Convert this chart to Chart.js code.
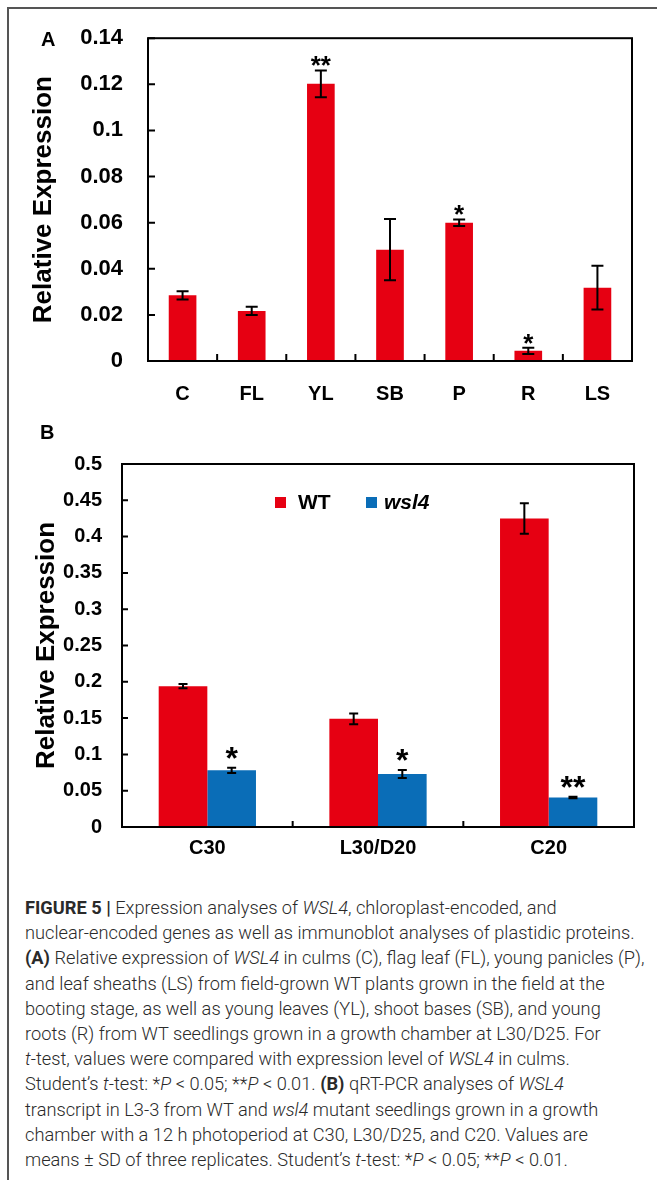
<!DOCTYPE html>
<html>
<head>
<meta charset="utf-8">
<script src="https://cdn.jsdelivr.net/npm/chart.js@4.4.1/dist/chart.umd.min.js"></script>
<style>
  body { margin: 0; background: #fff; width: 657px; height: 1180px; position: relative; overflow: hidden; font-family: 'Liberation Sans', Arial, sans-serif; }
  #frame { position: absolute; left: 7px; top: 7px; width: 700px; height: 1200px; border-top: 2px solid #555; border-left: 2px solid #555; }
  canvas { position: absolute; left: 0; }
  #chartA { top: 0; }
  #chartB { top: 420px; }
  .panel { position: absolute; font-weight: bold; font-size: 20px; line-height: 20px; }
  #caption { position: absolute; left: 25px; top: 895px; font-family: Roboto, 'Liberation Sans', sans-serif; font-weight: 300; font-size: 18px; line-height: 25.2px; color: #2a2a2a; white-space: nowrap; }
  #caption b { font-weight: 700; }
  #caption div { display: block; }
  #caption span.l { display: inline-block; }
</style>
</head>
<body>
<div id="frame"></div>
<canvas id="chartA" width="657" height="420"></canvas>
<canvas id="chartB" width="657" height="460"></canvas>
<div class="panel" style="left:41px; top:29px;">A</div>
<div class="panel" style="left:40px; top:422px;">B</div>
<div id="caption">
  <div><span class="l"><b>FIGURE 5 |</b> Expression analyses of <i>WSL4</i>, chloroplast-encoded, and</span></div>
  <div><span class="l" id="refLine">nuclear-encoded genes as well as immunoblot analyses of plastidic proteins.</span></div>
  <div><span class="l"><b>(A)</b> Relative expression of <i>WSL4</i> in culms (C), flag leaf (FL), young panicles (P),</span></div>
  <div><span class="l">and leaf sheaths (LS) from field-grown WT plants grown in the field at the</span></div>
  <div><span class="l">booting stage, as well as young leaves (YL), shoot bases (SB), and young</span></div>
  <div><span class="l">roots (R) from WT seedlings grown in a growth chamber at L30/D25. For</span></div>
  <div><span class="l"><i>t</i>-test, values were compared with expression level of <i>WSL4</i> in culms.</span></div>
  <div><span class="l">Student’s <i>t</i>-test: *<i>P</i> &lt; 0.05; **<i>P</i> &lt; 0.01. <b>(B)</b> qRT-PCR analyses of <i>WSL4</i></span></div>
  <div><span class="l">transcript in L3-3 from WT and <i>wsl4</i> mutant seedlings grown in a growth</span></div>
  <div><span class="l">chamber with a 12 h photoperiod at C30, L30/D25, and C20. Values are</span></div>
  <div><span class="l">means ± SD of three replicates. Student’s <i>t</i>-test: *<i>P</i> &lt; 0.05; **<i>P</i> &lt; 0.01.</span></div>
</div>
<script>
// panel A: tissues
const catsA = ['C', 'FL', 'YL', 'SB', 'P', 'R', 'LS'];
const valsA = [0.0285, 0.0217, 0.1202, 0.0483, 0.0600, 0.0044, 0.0318];
const errA = [0.0018, 0.0018, 0.0058, 0.0133, 0.0014, 0.0014, 0.0095];
const starsA = ['', '', '**', '', '*', '*', ''];
const yTicksA = ['0', '0.02', '0.04', '0.06', '0.08', '0.1', '0.12', '0.14'];

// panel B: conditions
const catsB = ['C30', 'L30/D20', 'C20'];
const wtVals = [0.194, 0.149, 0.425];
const wtErr = [0.003, 0.0073, 0.021];
const wslVals = [0.078, 0.073, 0.0405];
const wslErr = [0.0035, 0.0055, 0.001];
const wslStars = ['*', '*', '**'];
const yTicksB = ['0', '0.05', '0.1', '0.15', '0.2', '0.25', '0.3', '0.35', '0.4', '0.45', '0.5'];

const RED = '#e60012';
const BLUE = '#0a6db7';
const FONT = "'Liberation Sans', Arial, sans-serif";

Chart.defaults.color = '#000';
Chart.defaults.font.family = FONT;

const extras = {
  id: 'extras',
  afterDatasetsDraw(chart, args, o) {
    const ctx = chart.ctx, y = chart.scales.y;
    ctx.save();
    chart.data.datasets.forEach((ds, i) => {
      chart.getDatasetMeta(i).data.forEach((bar, j) => {
        const v = ds.data[j], e = ds.errors[j];
        const top = y.getPixelForValue(v + e), bot = y.getPixelForValue(v - e);
        ctx.strokeStyle = '#000';
        ctx.lineWidth = o.errWidth;
        ctx.beginPath();
        ctx.moveTo(bar.x, top); ctx.lineTo(bar.x, bot);
        ctx.moveTo(bar.x - o.cap / 2, top); ctx.lineTo(bar.x + o.cap / 2, top);
        ctx.moveTo(bar.x - o.cap / 2, bot); ctx.lineTo(bar.x + o.cap / 2, bot);
        ctx.stroke();
        const s = ds.stars && ds.stars[j];
        if (s) {
          ctx.font = o.starFont;
          ctx.fillStyle = '#000';
          ctx.textAlign = 'center';
          ctx.textBaseline = 'alphabetic';
          const m = ctx.measureText(s);
          const cy = top - o.starGap;
          ctx.fillText(s, bar.x, cy - (m.actualBoundingBoxDescent - m.actualBoundingBoxAscent) / 2);
        }
      });
    });
    ctx.restore();
  },
  afterDraw(chart, args, o) {
    const { ctx, chartArea: a } = chart;
    const x = chart.scales.x, y = chart.scales.y;
    ctx.save();
    ctx.strokeStyle = '#000';
    ctx.lineWidth = 2;
    ctx.strokeRect(a.left, a.top, a.right - a.left, a.bottom - a.top);
    ctx.beginPath();
    y.ticks.forEach((t, i) => {
      const py = y.getPixelForTick(i);
      ctx.moveTo(a.left, py); ctx.lineTo(a.left + o.tick, py);
    });
    for (let i = 1; i < x.ticks.length; i++) {
      const px = (x.getPixelForTick(i - 1) + x.getPixelForTick(i)) / 2;
      ctx.moveTo(px, a.bottom); ctx.lineTo(px, a.bottom - o.tick);
    }
    ctx.stroke();
    if (o.legend) {
      ctx.textAlign = 'left';
      ctx.textBaseline = 'middle';
      chart.data.datasets.forEach((ds, i) => {
        const p = o.legend[i];
        ctx.fillStyle = ds.backgroundColor;
        ctx.fillRect(p.box, o.legendY - 5, 11, 11);
        ctx.fillStyle = '#000';
        ctx.font = ds.legendFont;
        ctx.fillText(ds.label, p.text, o.legendY + 1);
      });
    }
    ctx.restore();
  }
};

function yAxis(ticks, fontSize, pad, width, titlePad, max, step) {
  return {
    min: 0, max: max,
    ticks: { stepSize: step, padding: pad, font: { size: fontSize, weight: 'bold' }, callback: (v, i) => ticks[i] },
    grid: { display: false, drawTicks: false },
    border: { display: false },
    title: { display: true, text: 'Relative Expression', font: { size: 26, weight: 'bold' }, padding: { top: titlePad, bottom: 0 } },
    afterFit: s => { s.width = width; }
  };
}

function xAxis(pad, height) {
  return {
    ticks: { padding: pad, maxRotation: 0, font: { size: 20, weight: 'bold' } },
    grid: { display: false, drawTicks: false },
    border: { display: false },
    afterFit: s => { s.height = height; }
  };
}

new Chart(document.getElementById('chartA'), {
  type: 'bar',
  data: {
    labels: catsA,
    datasets: [{
      label: 'WT',
      data: valsA,
      errors: errA,
      stars: starsA,
      backgroundColor: RED,
      borderWidth: 0,
      barPercentage: 0.4,
      categoryPercentage: 1
    }]
  },
  options: {
    responsive: false,
    animation: false,
    devicePixelRatio: 1,
    layout: { padding: { top: 37, right: 25, left: 0, bottom: 0 } },
    plugins: {
      legend: { display: false },
      tooltip: { enabled: false },
      extras: { cap: 12, errWidth: 2, tick: 7, starFont: 'bold 26px ' + FONT, starGap: 9 }
    },
    scales: {
      x: xAxis(21, 59),
      y: yAxis(yTicksA, 22, 25, 148, 28, 0.14, 0.02)
    }
  },
  plugins: [extras]
});

new Chart(document.getElementById('chartB'), {
  type: 'bar',
  data: {
    labels: catsB,
    datasets: [{
      label: 'WT',
      data: wtVals,
      errors: wtErr,
      backgroundColor: RED,
      borderWidth: 0,
      legendFont: 'bold 21px ' + FONT
    }, {
      label: 'wsl4',
      data: wslVals,
      errors: wslErr,
      stars: wslStars,
      backgroundColor: BLUE,
      borderWidth: 0,
      legendFont: 'italic bold 21px ' + FONT
    }]
  },
  options: {
    responsive: false,
    animation: false,
    devicePixelRatio: 1,
    datasets: { bar: { categoryPercentage: 0.57, barPercentage: 1 } },
    layout: { padding: { top: 44, right: 23, left: 0, bottom: 0 } },
    plugins: {
      legend: { display: false },
      tooltip: { enabled: false },
      extras: {
        cap: 9, errWidth: 2, tick: 6, starFont: 'bold 32px ' + FONT, starGap: 15,
        legendY: 82, legend: [{ box: 275, text: 298 }, { box: 366, text: 384 }]
      }
    },
    scales: {
      x: xAxis(9, 53),
      y: yAxis(yTicksB, 20, 20, 122, 31, 0.5, 0.05)
    }
  },
  plugins: [extras]
});

// fit the caption so its wrapping matches the printed figure
const cap = document.getElementById('caption');
const w = document.getElementById('refLine').getBoundingClientRect().width;
cap.style.fontSize = (18 * 610 / w) + 'px';
</script>
</body>
</html>
